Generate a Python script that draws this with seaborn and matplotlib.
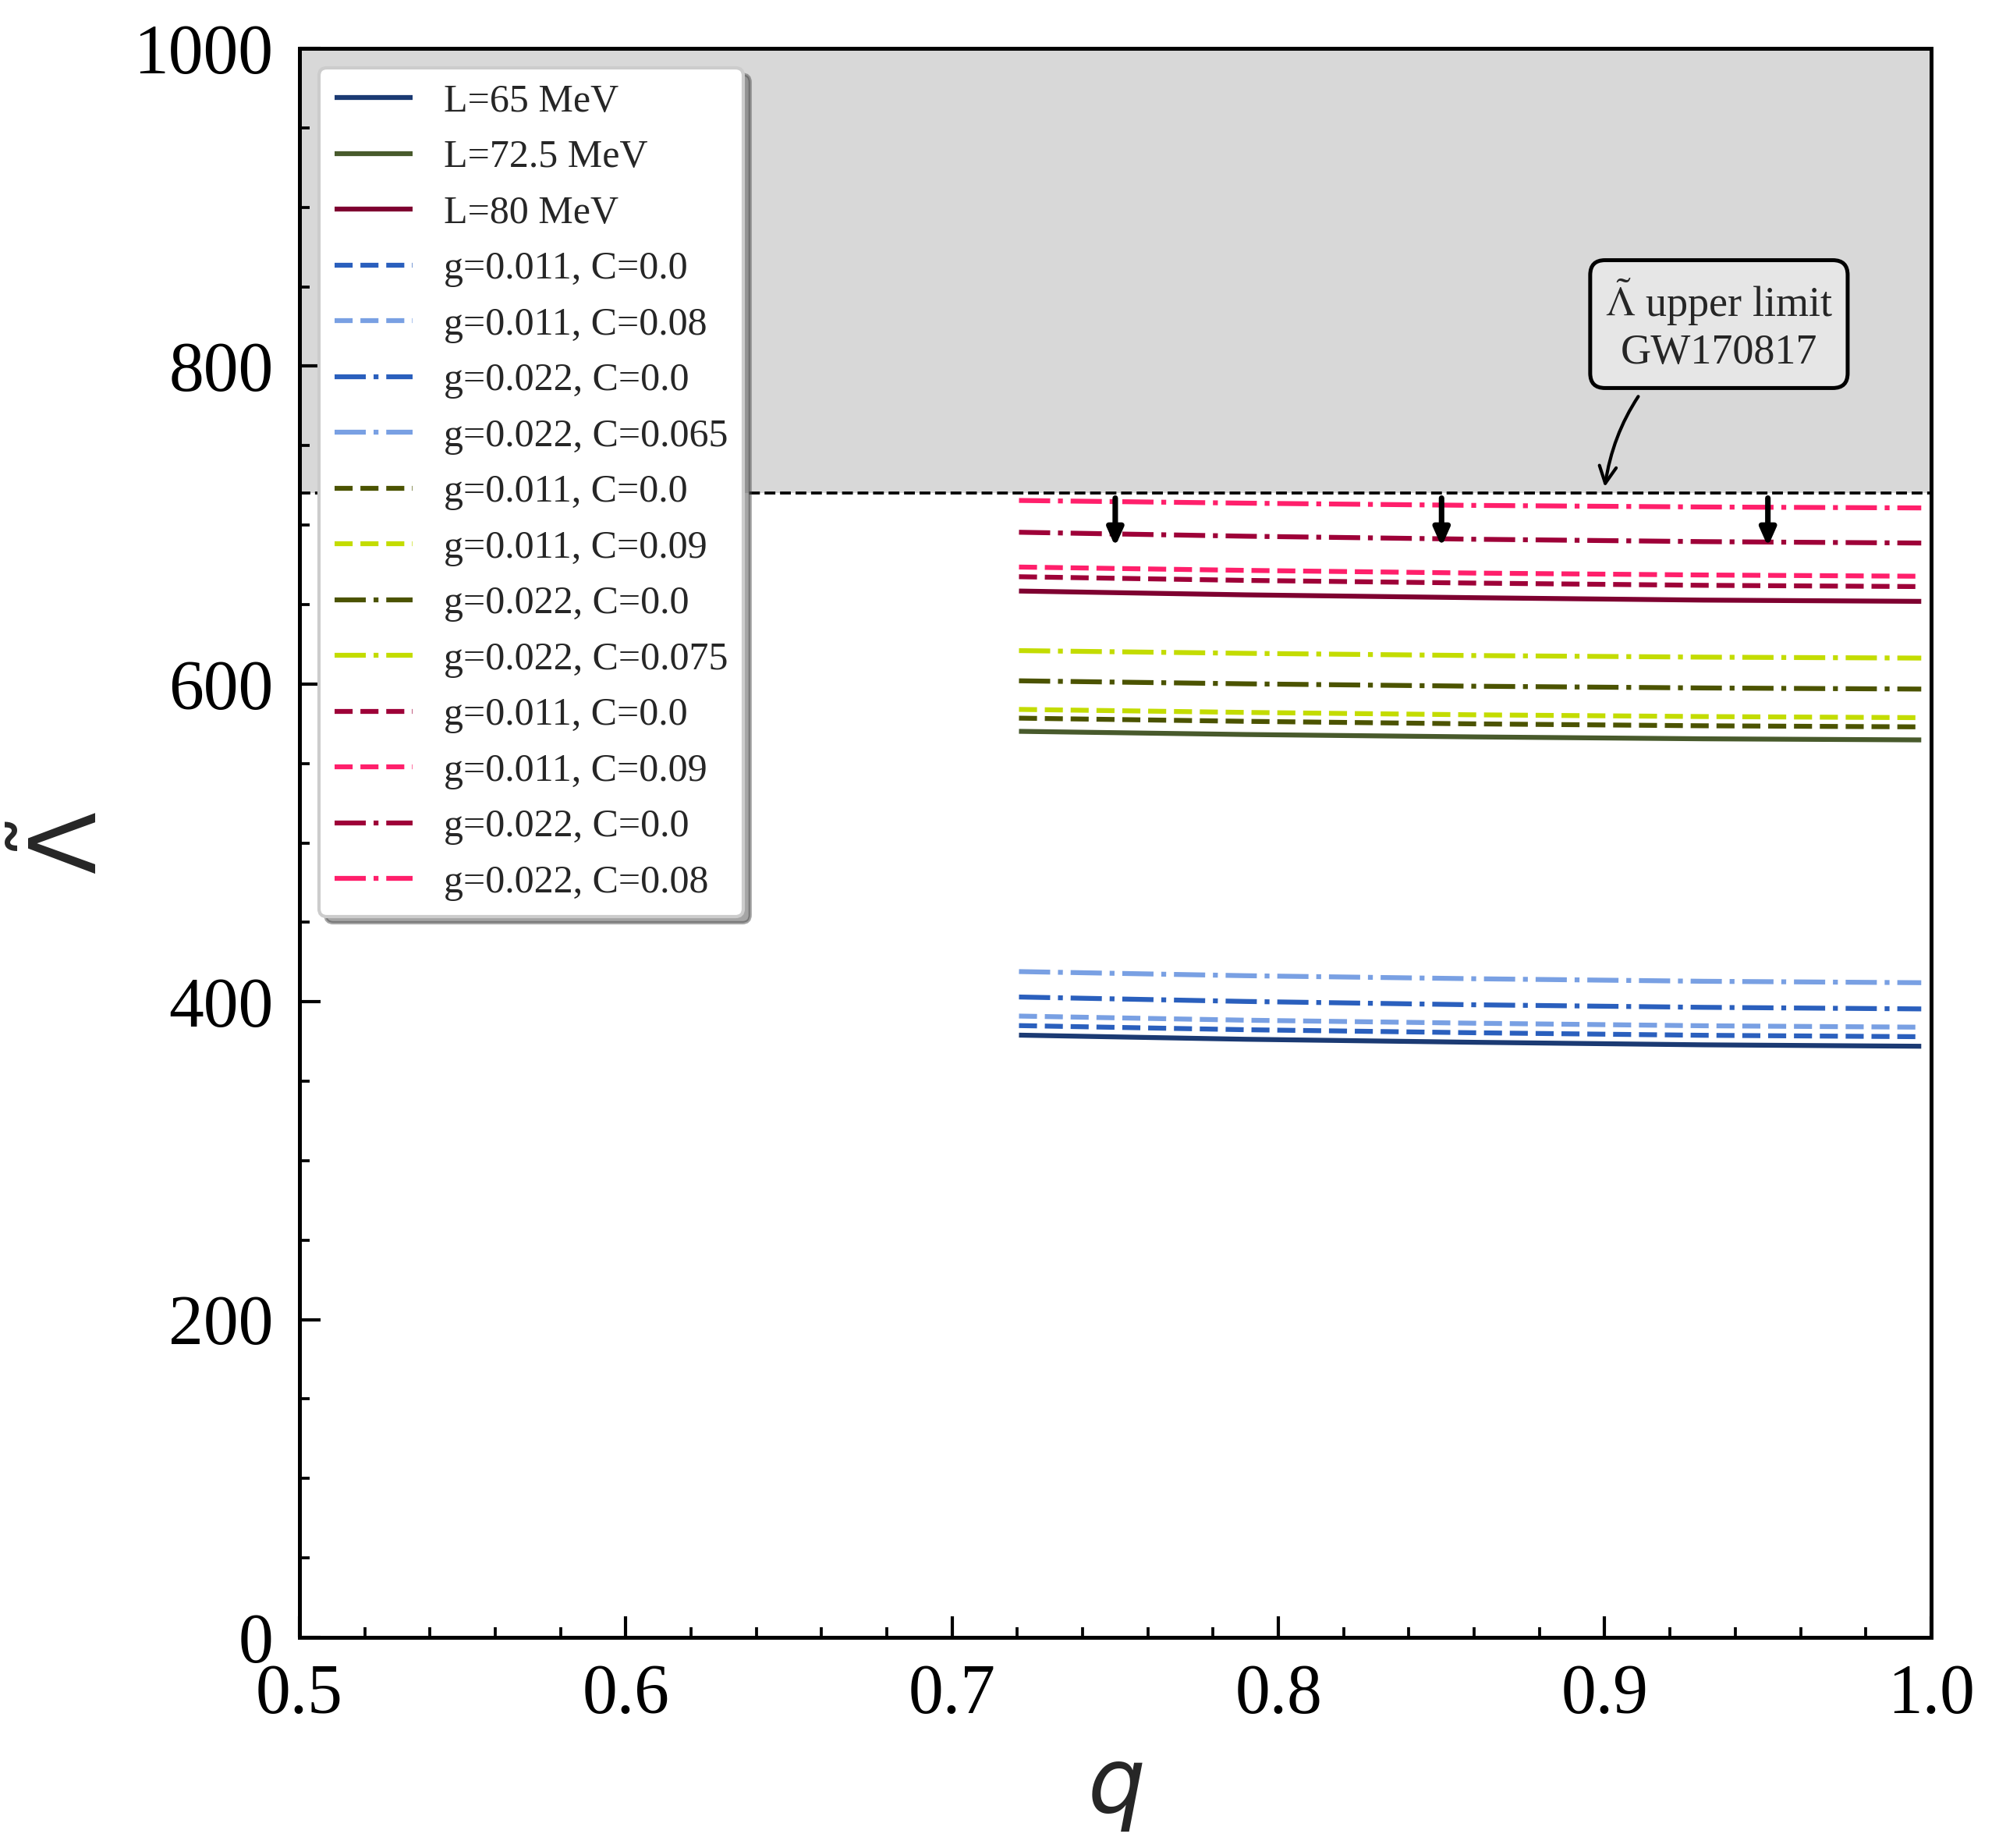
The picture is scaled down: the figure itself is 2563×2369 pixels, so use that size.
import numpy as np
import pandas as pd
import seaborn as sns
import matplotlib
matplotlib.use("Agg")
import matplotlib.pyplot as plt

# ======================= data =======================
q = [0.7205, 0.79, 0.86, 0.93, 0.997]

# L = 65 MeV family
lam_L65 = [379.0, 376.4, 374.5, 372.9, 372.0]
lam_65_g011_c0 = [385.0, 382.4, 380.5, 378.9, 378.0]
lam_65_g011_c008 = [391.0, 388.4, 386.5, 384.9, 384.0]
lam_65_g022_c0 = [403.0, 400.2, 398.1, 396.5, 395.5]
lam_65_g022_c0065 = [419.0, 416.4, 414.5, 412.9, 412.0]

# L = 72.5 MeV family
lam_L725 = [570.2, 568.2, 566.7, 565.5, 564.8]
lam_725_g011_c0 = [578.5, 576.5, 574.9, 573.7, 573.0]
lam_725_g011_c009 = [584.0, 582.1, 580.6, 579.5, 578.8]
lam_725_g022_c0 = [602.0, 600.1, 598.6, 597.5, 596.8]
lam_725_g022_c0075 = [621.0, 619.3, 617.9, 616.9, 616.3]

# L = 80 MeV family
lam_L80 = [658.5, 656.1, 654.3, 652.8, 652.0]
lam_80_g011_c0 = [667.5, 665.2, 663.5, 662.1, 661.3]
lam_80_g011_c009 = [673.6, 671.5, 669.8, 668.6, 667.8]
lam_80_g022_c0 = [695.5, 693.0, 691.1, 689.6, 688.7]
lam_80_g022_c008 = [715.5, 713.8, 712.4, 711.4, 710.8]

lam_limit = 720
arrow_q = [0.75, 0.85, 0.95]

# (label, values, colour, linestyle) in legend order
series = [
    ("L=65 MeV", lam_L65, "#1b3a73", "-"),
    ("L=72.5 MeV", lam_L725, "#485a2c", "-"),
    ("L=80 MeV", lam_L80, "#7e0030", "-"),
    ("g=0.011, C=0.0", lam_65_g011_c0, "#2a5fbd", "--"),
    ("g=0.011, C=0.08", lam_65_g011_c008, "#79a0e3", "--"),
    ("g=0.022, C=0.0", lam_65_g022_c0, "#2a5fbd", "-."),
    ("g=0.022, C=0.065", lam_65_g022_c0065, "#79a0e3", "-."),
    ("g=0.011, C=0.0", lam_725_g011_c0, "#4b5300", "--"),
    ("g=0.011, C=0.09", lam_725_g011_c009, "#c3dc00", "--"),
    ("g=0.022, C=0.0", lam_725_g022_c0, "#4b5300", "-."),
    ("g=0.022, C=0.075", lam_725_g022_c0075, "#c3dc00", "-."),
    ("g=0.011, C=0.0", lam_80_g011_c0, "#9e0038", "--"),
    ("g=0.011, C=0.09", lam_80_g011_c009, "#ff1f6b", "--"),
    ("g=0.022, C=0.0", lam_80_g022_c0, "#9e0038", "-."),
    ("g=0.022, C=0.08", lam_80_g022_c008, "#ff1f6b", "-."),
]

# ======================= style =======================
sns.set_theme(style="ticks")
plt.rcParams["font.family"] = ["Liberation Serif", "DejaVu Serif"]
plt.rcParams["mathtext.fontset"] = "dejavusans"
plt.rcParams["axes.edgecolor"] = "black"
plt.rcParams["axes.linewidth"] = 1.2
plt.rcParams["lines.solid_capstyle"] = "butt"
plt.rcParams["xtick.color"] = "black"
plt.rcParams["ytick.color"] = "black"

fig, ax = plt.subplots(figsize=(2563 / 300, 2369 / 300), dpi=300)
fig.subplots_adjust(left=0.1498, right=0.966, top=0.9738, bottom=0.114)

# excluded region above the GW170817 limit
ax.axhspan(lam_limit, 1000, color="#d8d8d8", zorder=0, lw=0)
ax.axhline(lam_limit, color="black", linestyle="--", lw=0.9, zorder=1)

for label, vals, col, ls in series:
    sns.lineplot(x=q, y=vals, ax=ax, color=col, linestyle=ls, lw=1.5, label=label)

# downward arrows under the limit
for xa in arrow_q:
    ax.annotate("", xy=(xa, 686.5), xytext=(xa, 717),
                arrowprops=dict(arrowstyle="-|>,head_width=0.2,head_length=0.45",
                                mutation_scale=10, color="black", lw=1.7,
                                shrinkA=0, shrinkB=0))

ax.annotate(r"$\tilde{\Lambda}$ upper limit" + "\nGW170817", xy=(0.9, 724), xytext=(0.935, 826),
            ha="center", va="center", fontsize=13, math_fontfamily="stix",
            bbox=dict(boxstyle="round,pad=0.35", fc="#e6e6e6", ec="black", lw=1.2),
            arrowprops=dict(arrowstyle="->", color="black", lw=1.0,
                            connectionstyle="arc3,rad=0.25", shrinkA=3, shrinkB=0))

ax.set_xlim(0.5, 1.0)
ax.set_ylim(0, 1000)
ax.set_xticks([0.5, 0.6, 0.7, 0.8, 0.9, 1.0])
ax.set_xticklabels(["0.5", "0.6", "0.7", "0.8", "0.9", "1.0"])
ax.set_xticks(np.arange(0.52, 1.0, 0.02), minor=True)
ax.set_yticks([0, 200, 400, 600, 800, 1000])
ax.set_yticks(np.arange(50, 1000, 50), minor=True)
ax.tick_params(which="both", direction="in", top=False, right=False, labelsize=21.5, pad=8)
ax.tick_params(which="major", length=6.5, width=1.0)
ax.tick_params(which="minor", length=3.2, width=0.9)

ax.set_xlabel(r"$q$", fontsize=28, labelpad=7)
ax.set_ylabel(r"$\tilde{\Lambda}$", fontsize=28, labelpad=5.5)

ax.legend(loc="upper left", fontsize=12, frameon=True, fancybox=True, shadow=True,
          framealpha=1, edgecolor="0.8", facecolor="white", labelspacing=0.5)

fig.savefig("out.png", dpi=300)
